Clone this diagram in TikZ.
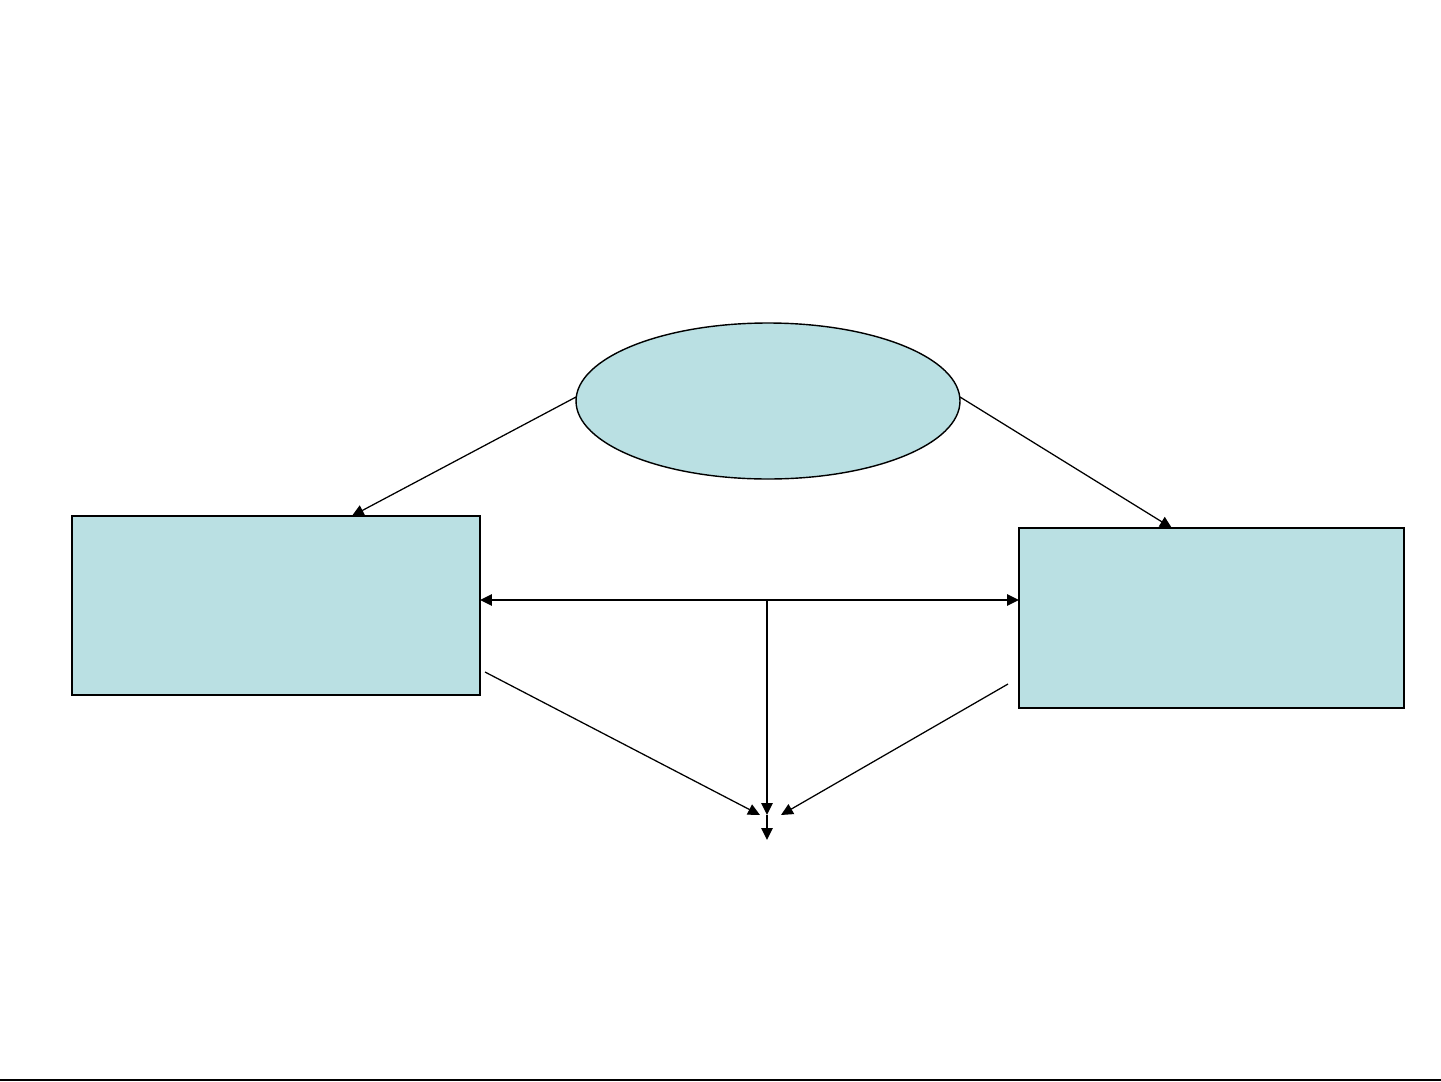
\documentclass[tikz,border=0pt]{standalone}
\usetikzlibrary{arrows.meta,calc,shapes.geometric}
\definecolor{boxfill}{RGB}{186,224,227}
\begin{document}
\begin{tikzpicture}[x=0.05cm,y=-0.05cm,
  shapebox/.style={draw=black,line width=2.8pt,fill=boxfill,inner sep=0pt,outer sep=0pt},
  ellbox/.style={draw=black,line width=2pt,fill=boxfill,inner sep=0pt,outer sep=0pt},
  thinarrow/.style={draw=black,line width=1.8pt,-{Triangle[length=17pt,width=16pt]}},
  thickarrow/.style={draw=black,line width=2.8pt,-{Triangle[length=17pt,width=16pt]}},
  botharrow/.style={draw=black,line width=2.8pt,{Triangle[length=17pt,width=16pt]}-{Triangle[length=17pt,width=16pt]}}]
\path[use as bounding box,fill=white] (0,0) rectangle (1441,1081);
\node[ellbox,ellipse,minimum width=19.2cm,minimum height=7.8cm] (ell) at (768,401) {};
\node[shapebox,rectangle,minimum width=20.4cm,minimum height=8.95cm] (lbox) at (276,605.5) {};
\node[shapebox,rectangle,minimum width=19.25cm,minimum height=9cm] (rbox) at (1211.5,618) {};
\coordinate (jn) at (767,600);
\coordinate (tgt) at (767,815);
\coordinate (bot) at (767,840);
\coordinate (lsrc) at (485,672);
\coordinate (rsrc) at (1008,684);
\coordinate (ltip) at (760,815);
\coordinate (rtip) at (781,815);
\draw[thinarrow] ($(ell.west)+(0,-4)$) -- ($(lbox.north west)!0.686!(lbox.north east)$);
\draw[thinarrow] ($(ell.east)+(0,-4)$) -- ($(rbox.north west)!0.397!(rbox.north east)$);
\draw[botharrow] (jn -| lbox.east) -- (jn -| rbox.west);
\draw[thickarrow] (jn) -- (tgt);
\draw[thickarrow] (tgt) -- (bot);
\draw[thinarrow] (lsrc) -- (ltip);
\draw[thinarrow] (rsrc) -- (rtip);
\draw[black,line width=2.8pt] (0,1080) -- (1441,1080);
\end{tikzpicture}
\end{document}
